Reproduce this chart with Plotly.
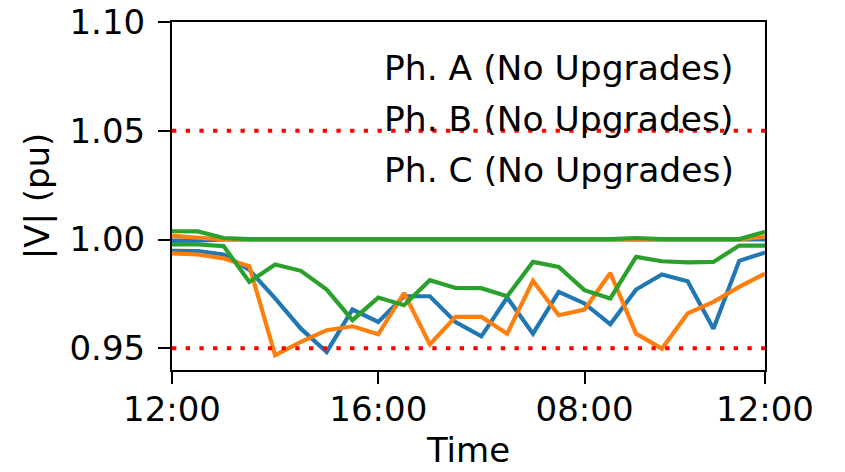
import plotly.graph_objects as go

hours = list(range(24))
tick_pos = [0, 8, 16, 23]
tick_text = ["12:00", "16:00", "08:00", "12:00"]

phase_a_no = [0.9948, 0.9947, 0.9931, 0.9860, 0.9729, 0.9590, 0.9483, 0.9678, 0.9621, 0.9739,
              0.9739, 0.9620, 0.9555, 0.9733, 0.9567, 0.9759, 0.9706, 0.9610, 0.9770, 0.9839,
              0.9808, 0.9590, 0.9902, 0.9940]
phase_b_no = [0.9936, 0.9931, 0.9913, 0.9877, 0.9468, 0.9529, 0.9583, 0.9601, 0.9564, 0.9754,
              0.9518, 0.9644, 0.9644, 0.9567, 0.9810, 0.9652, 0.9678, 0.9846, 0.9567, 0.9498,
              0.9660, 0.9713, 0.9782, 0.9843]
phase_c_no = [0.9978, 0.9977, 0.9970, 0.9805, 0.9885, 0.9856, 0.9770, 0.9629, 0.9733, 0.9698,
              0.9813, 0.9777, 0.9776, 0.9739, 0.9897, 0.9874, 0.9767, 0.9729, 0.9920, 0.9900,
              0.9895, 0.9897, 0.9972, 0.9972]
phase_a_up = [0.9995, 0.9995, 1.0000, 1.0000, 1.0000, 1.0000, 1.0000, 1.0000, 1.0000, 1.0000,
              1.0000, 1.0000, 1.0000, 1.0000, 1.0000, 1.0000, 1.0000, 1.0000, 1.0000, 1.0000,
              1.0000, 1.0000, 1.0000, 1.0000]
phase_b_up = [1.0017, 1.0010, 1.0000, 1.0000, 1.0000, 1.0000, 1.0000, 1.0000, 1.0000, 1.0000,
              1.0000, 1.0000, 1.0000, 1.0000, 1.0000, 1.0000, 1.0000, 1.0000, 0.9997, 1.0000,
              1.0000, 1.0000, 1.0000, 1.0012]
phase_c_up = [1.0038, 1.0037, 1.0007, 1.0002, 1.0002, 1.0002, 1.0002, 1.0002, 1.0002, 1.0002,
              1.0002, 1.0002, 1.0002, 1.0002, 1.0002, 1.0002, 1.0002, 1.0002, 1.0007, 1.0002,
              1.0002, 1.0002, 1.0002, 1.0035]

voltage_limits = [0.95, 1.05]
legend_labels = ["Ph. A (No Upgrades)", "Ph. B (No Upgrades)", "Ph. C (No Upgrades)"]
colors = ["#1f77b4", "#ff7f0e", "#2ca02c"]

FONT = "DejaVu Sans"
FS = 34

fig = go.Figure()
for series, c in zip([phase_a_no, phase_b_no, phase_c_no], colors):
    fig.add_trace(go.Scatter(x=hours, y=series, mode="lines",
                             line=dict(color=c, width=4.2), showlegend=False))
for series, c in zip([phase_a_up, phase_b_up, phase_c_up], colors):
    fig.add_trace(go.Scatter(x=hours, y=series, mode="lines",
                             line=dict(color=c, width=4.2), showlegend=False))
# legend entries (handles are not visible in the reference)
for i, lab in enumerate(legend_labels):
    fig.add_trace(go.Scatter(x=[None], y=[None], mode="lines", name=lab,
                             legendgroup=f"g{i}",
                             line=dict(color="rgba(0,0,0,0)", width=1)))

for v in voltage_limits:
    fig.add_hline(y=v, line=dict(color="red", width=4, dash="4.3px,9.4px"), layer="above")

axis_common = dict(
    showline=True, mirror=True, linecolor="black", linewidth=2,
    ticks="outside", ticklen=12, tickwidth=2, tickcolor="black",
    showgrid=False, zeroline=False, automargin=False,
    tickfont=dict(family=FONT, size=FS, color="black"),
)

fig.update_layout(
    width=845, height=472,
    margin=dict(l=172, r=80, t=22, b=102, autoexpand=False),
    paper_bgcolor="white", plot_bgcolor="white",
    font=dict(family=FONT, size=FS, color="black"),
    xaxis=dict(range=[0, 23], tickvals=tick_pos, ticktext=tick_text,
               title=dict(text="Time", font=dict(family=FONT, size=FS), standoff=10),
               ticklabelstandoff=-4, **axis_common),
    yaxis=dict(range=[0.94, 1.10], tickvals=[0.95, 1.00, 1.05, 1.10],
               ticktext=["0.95", "1.00", "1.05", "1.10"],
               title=dict(text="|V| (pu)", font=dict(family=FONT, size=FS), standoff=10),
               ticklabelstandoff=6, **axis_common),
    legend=dict(x=0.29, y=0.955, xanchor="left", yanchor="top",
                bgcolor="rgba(0,0,0,0)", borderwidth=0,
                traceorder="grouped", tracegroupgap=3,
                font=dict(family=FONT, size=34.5, color="black")),
)

fig.write_html("out.html")
